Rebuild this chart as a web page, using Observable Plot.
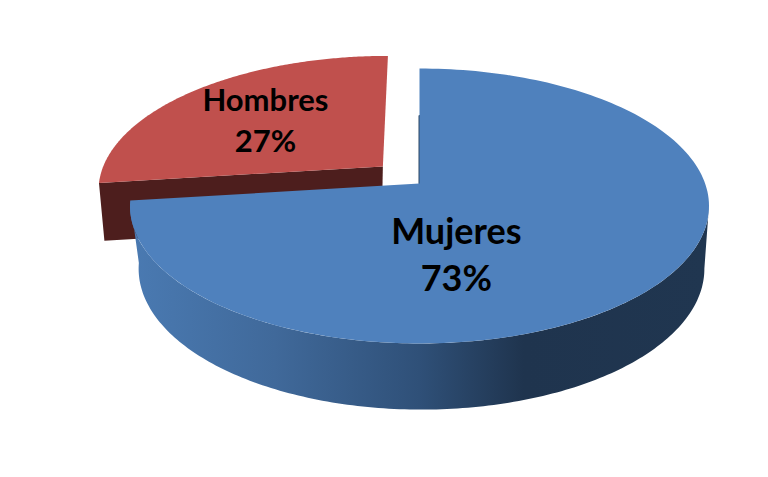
<!DOCTYPE html>
<html>
<head>
<meta charset="utf-8">
<script src="https://cdn.jsdelivr.net/npm/d3@7"></script>
<script src="https://cdn.jsdelivr.net/npm/@observablehq/plot@0.6"></script>
<style>html,body{margin:0;padding:0;background:#fff}svg{display:block}</style>
</head>
<body>
<div id="chart"></div>
<script>
const categories = ["Mujeres", "Hombres"];
const shares = [73, 27];

// Layout of the 3D view, kept apart from the data
const topPlane = {cx: 419, cy: 183, rx: 285.6, ry: 133.8, k: 0.1636};
const basePlane = {cx: 421, cy: 245, rx: 279, ry: 137, k: 0.165};
const redBasePlane = {...basePlane, cx: 417, cy: 241};
const explode = [[0, 0], [-0.131, 0.13]];
const labelAt = [[0.119, -0.4755], [-0.586, 0.5276]];
const fontSizes = [36, 31];
const topFill = ["#4f81bd", "#c0504d"];
const wallFill = ["url(#blueWall)", "#4d1e1d"];
const wallVisibleFrom = 27.6;
const cutEdgeReach = 0.55;

const project = (u, v, p) => {
  const s = 1 / (1 + p.k * v);
  return {x: p.cx + p.rx * u * s, y: p.cy - p.ry * v * s};
};
const rad = d3.scaleLinear().domain([0, 100]).range([0, 2 * Math.PI]);
const starts = d3.cumsum([0, ...shares]);
const rim = (a, i, p) => project(Math.sin(a) + explode[i][0], Math.cos(a) + explode[i][1], p);
const apex = (i, p) => project(explode[i][0], explode[i][1], p);
const arc = (from, to, i, p) => d3.range(0, 181).map(t => rim(from + (to - from) * t / 180, i, p));

const faces = categories.map((_, i) => [
  apex(i, topPlane),
  ...arc(rad(starts[i]), rad(starts[i + 1]), i, topPlane)
]);
// Mujeres: visible outer wall. Hombres: visible cut wall, at the slice's far end.
const blueFrom = rad(wallVisibleFrom), blueTo = rad(starts[1]);
const blueWall = [...arc(blueFrom, blueTo, 0, topPlane), ...arc(blueTo, blueFrom, 0, basePlane)];
const redEnd = rad(starts[1]);
const redWall = [apex(1, topPlane), rim(redEnd, 1, topPlane), rim(redEnd, 1, redBasePlane), apex(1, redBasePlane)];
const cutEdge = [project(0, cutEdgeReach, topPlane), apex(0, topPlane)];

const labels = categories.map((c, i) => ({
  ...project(labelAt[i][0], labelAt[i][1], topPlane),
  text: `${c}\n${shares[i]}%`,
  size: fontSizes[i]
}));

const polygon = (pts, fill) => Plot.line(pts, {x: "x", y: "y", fill, stroke: "none"});
const stops = [[0, "#4a7ab2"], [0.25, "#40699a"], [0.5, "#2f5078"], [0.68, "#1f344e"], [1, "#203650"]];

const chart = Plot.plot({
  width: 768,
  height: 477,
  margin: 0,
  style: {background: "#fff"},
  x: {domain: [0, 768], range: [0, 768], axis: null},
  y: {domain: [0, 477], range: [0, 477], axis: null},
  marks: [
    () => {
      const defs = d3.create("svg:defs");
      const g = defs.append("linearGradient").attr("id", "blueWall")
        .attr("x1", 0).attr("x2", 1).attr("y1", 0).attr("y2", 0);
      stops.forEach(([o, c]) => g.append("stop").attr("offset", o).attr("stop-color", c));
      return defs.node();
    },
    polygon(redWall, wallFill[1]),
    polygon(faces[1], topFill[1]),
    polygon(blueWall, wallFill[0]),
    Plot.line(cutEdge, {x: "x", y: "y", stroke: "#2a4664", strokeWidth: 2}),
    polygon(faces[0], topFill[0]),
    ...labels.map(l => Plot.text([l], {
      x: "x", y: "y", text: "text",
      fontSize: l.size, fontWeight: 700, fontFamily: "Lato",
      lineHeight: 1.31, fill: "#000"
    }))
  ]
});
document.getElementById("chart").append(chart);
</script>
</body>
</html>
